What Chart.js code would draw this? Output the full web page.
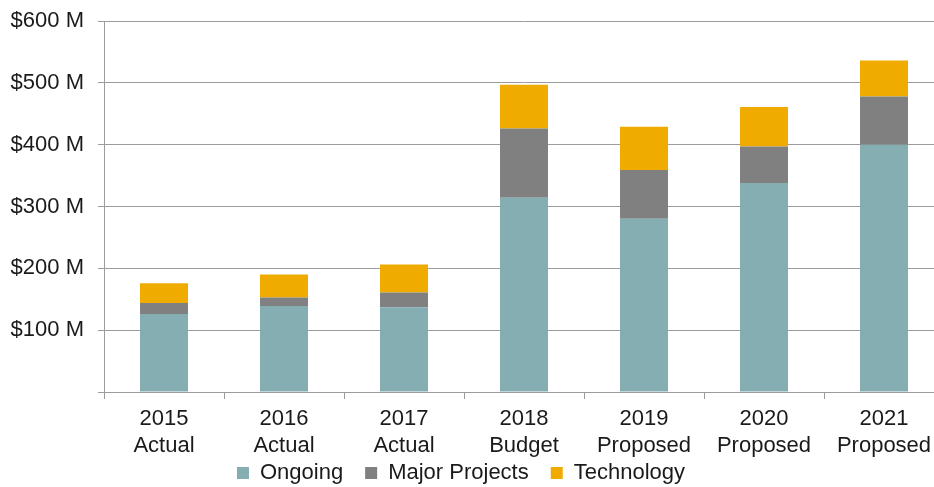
<!DOCTYPE html>
<html>
<head>
<meta charset="utf-8">
<script src="https://cdn.jsdelivr.net/npm/chart.js@4/dist/chart.umd.min.js"></script>
<style>
  html, body { margin: 0; padding: 0; background: #fff; overflow: hidden; }
  /* a área do gráfico continua para lá da margem direita, como no original */
  #wrap { width: 944px; height: 487px; position: relative; }
</style>
</head>
<body>
<div id="wrap"><canvas id="grafico"></canvas></div>
<script>
// Dados
const anos = ['2015', '2016', '2017', '2018', '2019', '2020', '2021'];
const tipos = ['Actual', 'Actual', 'Actual', 'Budget', 'Proposed', 'Proposed', 'Proposed'];
const ongoing = [126, 139, 137, 314, 280, 338, 400];
const majorProjects = [18, 14, 24, 112, 79, 59, 78];
const technology = [32, 37, 45, 71, 70, 64, 58];
const yTicks = [0, 100, 200, 300, 400, 500, 600];

const corGrelha = '#9c9c9c';
const corTexto = '#1a1a1a';
const fonte = { family: '"Liberation Sans", Arial, sans-serif', size: 22 };

// Sobe a legenda para ficar colada aos rótulos do eixo x
const ajustarLegenda = {
  id: 'ajustarLegenda',
  afterLayout(chart) {
    const leg = chart.legend;
    leg.top -= 19;
    leg.left -= 11;
    leg.right -= 11;
  }
};

let ctx = document.getElementById('grafico').getContext('2d');
let grafico = new Chart(ctx, {
  type: 'bar',
  data: {
    labels: anos.map((a, i) => [a, tipos[i]]),
    datasets: [
      { label: 'Ongoing', data: ongoing, backgroundColor: '#85aeb3' },
      { label: 'Major Projects', data: majorProjects, backgroundColor: '#808080' },
      { label: 'Technology', data: technology, backgroundColor: '#f0ab00' }
    ]
  },
  plugins: [ajustarLegenda],
  options: {
    responsive: true,
    maintainAspectRatio: false,
    animation: false,
    layout: { padding: { top: 21, right: 0, left: 0, bottom: 0 } },
    datasets: { bar: { barPercentage: 0.4, categoryPercentage: 1 } },
    plugins: {
      tooltip: { enabled: false },
      legend: {
        position: 'bottom',
        maxHeight: 28,
        labels: {
          boxWidth: 12,
          boxHeight: 12,
          padding: 22,
          color: corTexto,
          font: fonte
        }
      }
    },
    scales: {
      x: {
        stacked: true,
        afterFit: (scale) => { scale.height = 67; },
        grid: {
          offset: true,
          drawOnChartArea: false,
          color: corGrelha,
          tickLength: 7
        },
        border: { color: corGrelha },
        ticks: {
          color: corTexto,
          font: { ...fonte, lineHeight: 1.2 },
          padding: 7,
          maxRotation: 0
        }
      },
      y: {
        stacked: true,
        min: 0,
        max: 600,
        afterFit: (scale) => {
          scale.width = 104;
          scale.paddingTop = 0;
          scale.paddingBottom = 0;
        },
        afterBuildTicks: (scale) => { scale.ticks = yTicks.map(v => ({ value: v })); },
        grid: { color: corGrelha, tickLength: 6 },
        border: { color: corGrelha },
        ticks: {
          color: corTexto,
          font: fonte,
          padding: 14,
          callback: (v) => v === 0 ? '' : '$' + v + ' M'
        }
      }
    }
  }
});
</script>
</body>
</html>
